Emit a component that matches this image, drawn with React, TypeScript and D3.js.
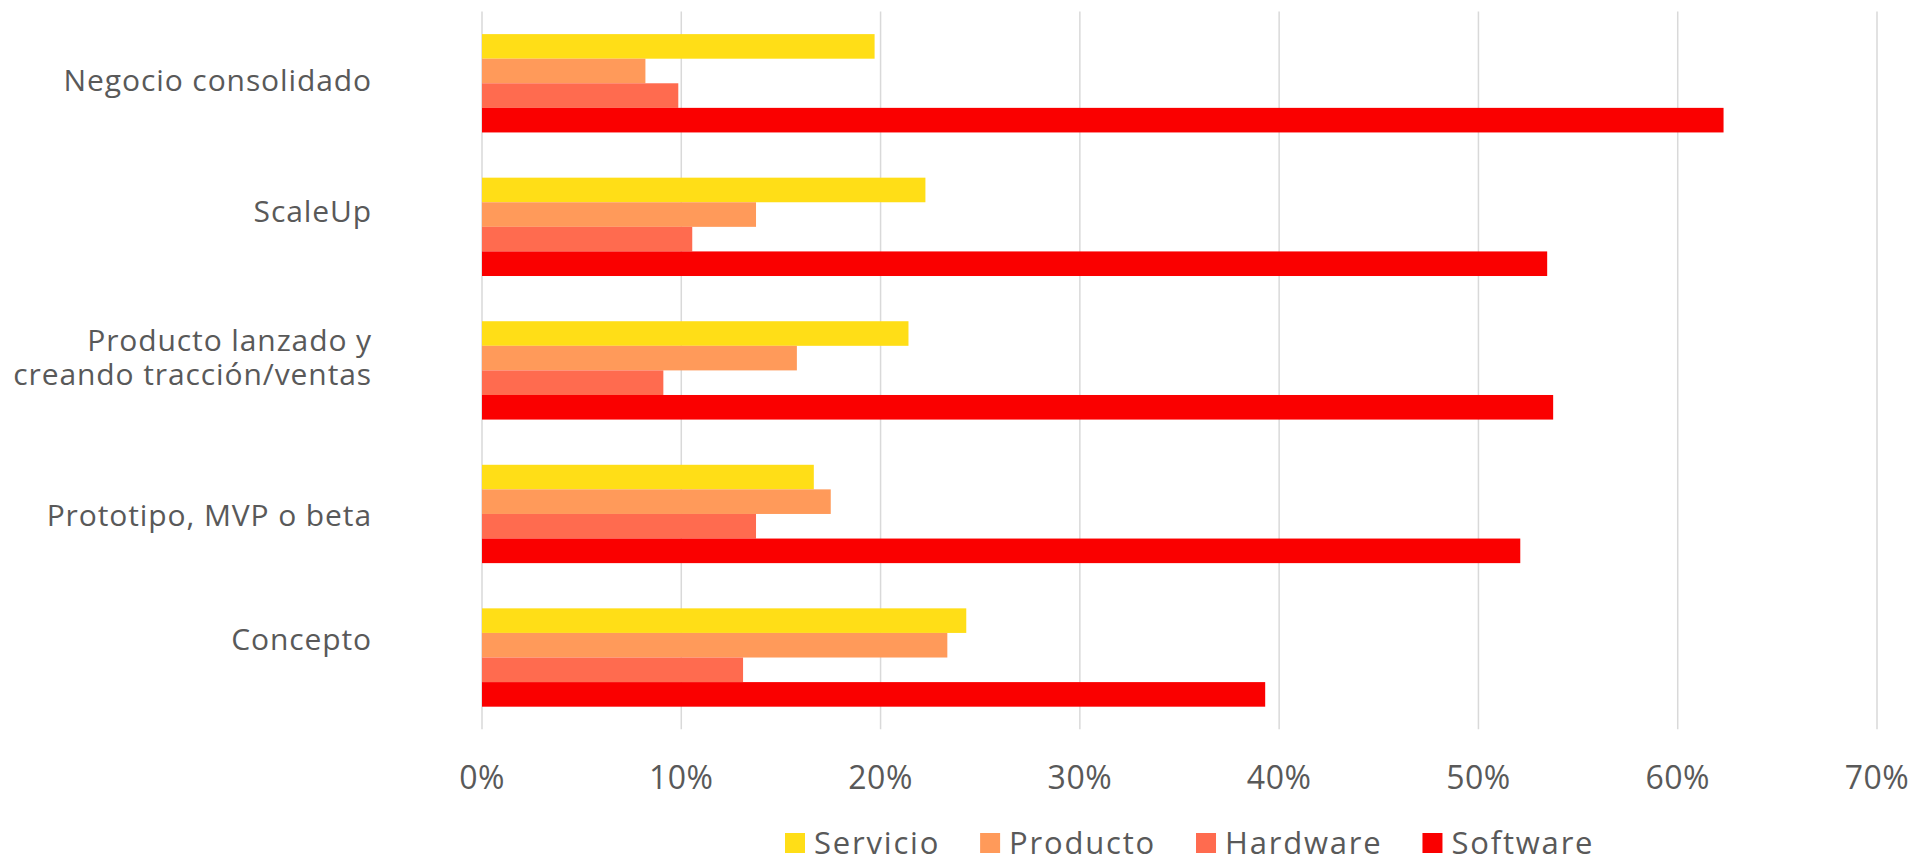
import React, { useEffect, useRef } from "react";
import * as d3 from "d3";

const categories = [
  "Negocio consolidado",
  "ScaleUp",
  "Producto lanzado y\ncreando tracción/ventas",
  "Prototipo, MVP o beta",
  "Concepto",
];
const seriesNames = ["Servicio", "Producto", "Hardware", "Software"];
const servicio = [19.7, 22.25, 21.4, 16.65, 24.3];
const producto = [8.2, 13.75, 15.8, 17.5, 23.35];
const hardware = [9.85, 10.55, 9.1, 13.75, 13.1];
const software = [62.3, 53.45, 53.75, 52.1, 39.3];
const xTicks = [0, 10, 20, 30, 40, 50, 60, 70];

const colors = ["#FFDE17", "#FF9A5A", "#FF6B4F", "#FA0000"];
const labelDy = [-3.5, -16, -13, 1, -18];
const FONT = "'Open Sans', 'DejaVu Sans', sans-serif";
const TEXT = "#595959";

export default function App() {
  const ref = useRef<SVGSVGElement>(null);
  useEffect(() => {
    const svg = d3.select(ref.current);
    svg.selectAll("*").remove();
    const x = d3.scaleLinear().domain([0, 70]).range([482, 1877]);
    const y = d3.scaleBand<string>().domain(categories).range([11.5, 729.3]).paddingInner(0.315).paddingOuter(0.1575);
    const ys = d3.scaleBand<string>().domain(seriesNames).range([0, y.bandwidth()]);
    const values = [servicio, producto, hardware, software];

    svg.append("g").selectAll("line").data(xTicks).join("line")
      .attr("x1", d => x(d)).attr("x2", d => x(d))
      .attr("y1", 11.5).attr("y2", 729.3)
      .attr("stroke", "#D9D9D9").attr("stroke-width", 1.5);

    const g = svg.append("g");
    categories.forEach((c, ci) => {
      seriesNames.forEach((s, si) => {
        g.append("rect")
          .attr("x", x(0))
          .attr("y", (y(c) as number) + (ys(s) as number))
          .attr("width", x(values[si][ci]) - x(0))
          .attr("height", ys.bandwidth())
          .attr("fill", colors[si]);
      });
    });

    const lab = svg.append("g").attr("font-family", FONT).attr("font-size", 30)
      .attr("letter-spacing", 0.9).attr("fill", TEXT).attr("text-anchor", "end");
    categories.forEach((c, ci) => {
      const lines = c.split("\n");
      const cy = (y(c) as number) + y.bandwidth() / 2 + labelDy[ci];
      const lh = 34.5;
      const t = lab.append("text");
      lines.forEach((ln, li) => {
        t.append("tspan")
          .attr("x", 372)
          .attr("y", cy + (li - (lines.length - 1) / 2) * lh)
          .attr("dy", "0.36em")
          .text(ln);
      });
    });

    svg.append("g").selectAll("text").data(xTicks).join("text")
      .attr("x", d => x(d)).attr("y", 789)
      .attr("text-anchor", "middle")
      .attr("font-family", FONT).attr("font-size", 32).attr("letter-spacing", 0.5).attr("fill", TEXT)
      .text(d => `${d}%`);

    const leg = svg.append("g");
    let lx = 785;
    seriesNames.forEach((s, si) => {
      leg.append("rect").attr("x", lx).attr("y", 833).attr("width", 20).attr("height", 20).attr("fill", colors[si]);
      const t = leg.append("text").attr("x", lx + 29).attr("y", 853.5)
        .attr("font-family", FONT).attr("font-size", 31).attr("letter-spacing", 1.8).attr("fill", TEXT).text(s);
      const w = (t.node() as SVGTextElement).getComputedTextLength();
      lx = lx + 29 + w + 40;
    });
  }, []);
  return (
    <svg ref={ref} width={1922} height={861}
      style={{ position: "absolute", left: 0, top: 0, background: "#fff" }} />
  );
}
